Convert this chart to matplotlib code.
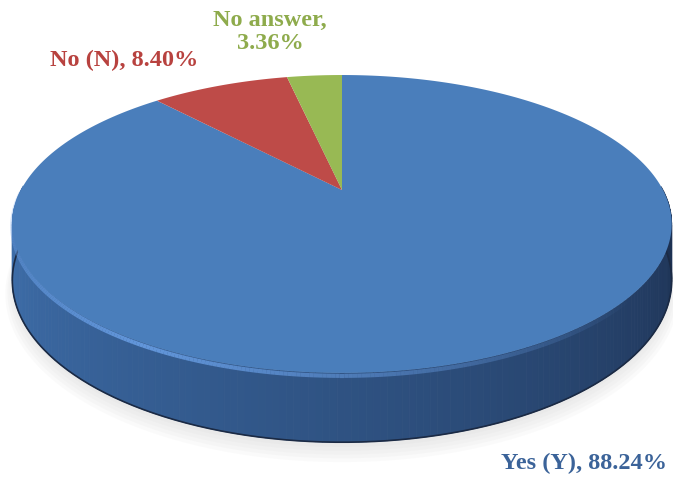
import numpy as np
import matplotlib
matplotlib.use("Agg")
import matplotlib.pyplot as plt
import matplotlib.transforms as mtransforms
from matplotlib.path import Path
from matplotlib.collections import PolyCollection, LineCollection

# survey answers
answers = ["Yes (Y)", "No (N)", "No answer"]
shares = [88.24, 8.40, 3.36]
face_colors = ["#4a7ebb", "#be4b48", "#98b954"]
text_colors = ["#3b6399", "#b8423f", "#8eab4c"]

TILT = 0.228    # far side of the disc looks smaller
DEPTH = 0.379   # disc thickness, in radius units


def project(x, y, drop=0.0):
    w = 1 + TILT * np.asarray(y)
    return np.asarray(x) / w, (np.asarray(y) - drop) / w


class Tilt(mtransforms.Transform):
    input_dims = output_dims = 2
    is_separable = False

    def __init__(self, drop=0.0):
        super().__init__()
        self.drop = drop

    def transform_non_affine(self, xy):
        xy = np.asarray(xy, dtype=float).reshape(-1, 2)
        px, py = project(xy[:, 0], xy[:, 1], self.drop)
        return np.column_stack([px, py])

    def transform_path_non_affine(self, path):
        # flatten the arcs finely before bending them
        k = 2000.0
        polys = path.to_polygons(mtransforms.Affine2D().scale(k),
                                 closed_only=False)
        verts = np.concatenate(polys) / k if polys else np.zeros((0, 2))
        return Path(self.transform_non_affine(verts))


def mix(c1, c2, t):
    c1, c2 = np.array(c1) / 255, np.array(c2) / 255
    return tuple(c1 + (c2 - c1) * t)


fig = plt.figure(figsize=(6.73, 4.78), dpi=100)
ax = fig.add_axes([0, 0, 1, 1])

wedges, _ = ax.pie(shares, colors=face_colors, startangle=90,
                   counterclock=False, radius=1.0,
                   wedgeprops=dict(linewidth=0))
for w in wedges:
    w.set_transform(Tilt(0.0) + ax.transData)
    w.set_zorder(5)

# soft shadow under the front edge
for i in range(6):
    sh = ax.pie([1], colors=["#9a9a9a"], radius=0.99 + 0.006 * i,
                wedgeprops=dict(linewidth=0, alpha=0.045))[0][0]
    sh.set_transform(Tilt(DEPTH + 0.02 + 0.012 * i) + ax.transData)
    sh.set_zorder(1)

# side wall of the disc, shaded from left to right
quads, cols = [], []
for w in wedges:
    phi = np.radians(np.arange(w.theta1, w.theta2 + 0.01, 1.0))
    for a, b in zip(phi[:-1], phi[1:]):
        if np.sin(a) > 0.02 and np.sin(b) > 0.02:
            continue
        tx0, ty0 = project(np.cos(a), np.sin(a))
        tx1, ty1 = project(np.cos(b), np.sin(b))
        bx0, by0 = project(np.cos(a), np.sin(a), DEPTH)
        bx1, by1 = project(np.cos(b), np.sin(b), DEPTH)
        quads.append([(tx0, ty0), (tx1, ty1), (bx1, by1), (bx0, by0)])
        ang = np.degrees((a + b) / 2) % 360
        t = np.clip((ang - 180) / 180, 0, 1) if ang >= 90 else 1.0
        cols.append(mix((64, 114, 176), (27, 46, 78), t ** 1.1))
side = PolyCollection(quads, facecolors=cols, edgecolors=cols, linewidths=0.6,
                      zorder=3)
ax.add_collection(side)

# dark lower rim and light upper rim
phi = np.radians(np.linspace(180, 360, 300))
bx, by = project(np.cos(phi), np.sin(phi), DEPTH)
ax.plot(bx, by, color="#1b2a44", lw=1.2, zorder=4)
tx, ty = project(np.cos(phi), np.sin(phi), 0.016)
segs = np.stack([np.column_stack([tx[:-1], ty[:-1]]),
                 np.column_stack([tx[1:], ty[1:]])], axis=1)
deg = np.degrees(phi[:-1])
glow = np.clip(1 - np.abs(deg - 240) / 80, 0, 1)
rim = LineCollection(segs, colors=[(0.42, 0.63, 0.91, 0.85 * g) for g in glow],
                     linewidths=3.0, zorder=4.5)
ax.add_collection(rim)

ax.set_aspect("auto")
ax.set_xlim(-342 / 321, (673 - 342) / 321)
ax.set_ylim((190 - 478) / 141.2, 190 / 141.2)
ax.axis("off")

# data labels
font = dict(family="Liberation Serif", fontweight="bold", fontsize=17.5)
labels = [f"{a}, {s:.2f}%" for a, s in zip(answers, shares)]
labels[2] = labels[2].replace(", ", ",\n")
fig.text(584 / 673, 1 - 463 / 478, labels[0], color=text_colors[0],
         ha="center", va="center", **font)
fig.text(124 / 673, 1 - 60 / 478, labels[1], color=text_colors[1],
         ha="center", va="center", **font)
fig.text(270 / 673, 1 - 32 / 478, labels[2], color=text_colors[2],
         ha="center", va="center", linespacing=1.1, **font)

fig.savefig("out.png", dpi=100)
